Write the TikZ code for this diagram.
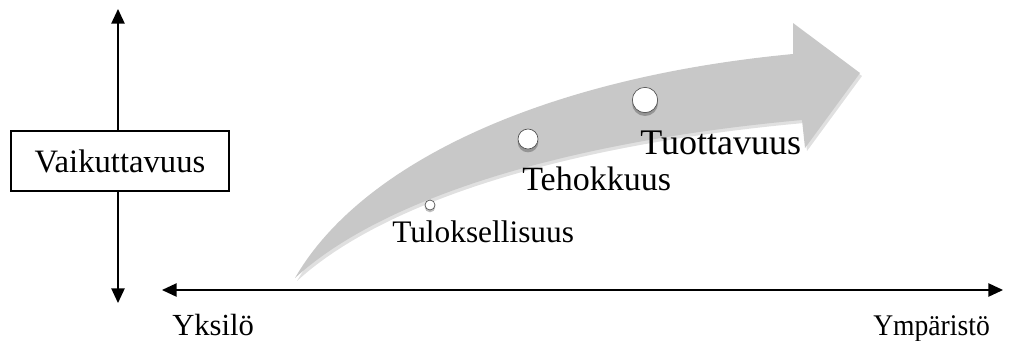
\documentclass[tikz,border=0pt]{standalone}
\usepackage{fontspec}
\setmainfont{Liberation Serif}
\newfontfamily\narrowserif[FakeStretch=0.92]{Liberation Serif}
\usetikzlibrary{arrows.meta}
\definecolor{arrowgray}{RGB}{200,200,200}
\definecolor{dotline}{RGB}{80,80,80}
\tikzset{axtip/.tip={Triangle[length=11pt,width=10pt]}}
\begin{document}
\begin{tikzpicture}[x=0.75pt,y=-0.75pt,
  axisline/.style={line width=1.1pt},
  box/.style={draw, line width=1pt, fill=white, minimum width=163.5pt, minimum height=45pt, inner sep=0pt},
  lbl/.style={inner sep=0pt, anchor=base west},
  dotc/.style={circle, draw=dotline, line width=0.5pt, fill=white, inner sep=0pt},
  dotshadow/.style={circle, fill=black, opacity=0.25, inner sep=0pt},
  bigarrow/.style={insert path={(295,278) .. controls (360,165) and (540,78) .. (793,54)
    -- (793,23) -- (860,73) -- (805,148) -- (802,120)
    .. controls (560,142) and (380,200) .. (295,278) -- cycle}}]
\useasboundingbox (0,0) rectangle (1009,340);
% big curved arrow: shadow and body
\fill[black, opacity=0.12, shift={(2,3)}, bigarrow];
\fill[arrowgray, bigarrow];
% dots with shadows
\node[dotshadow, minimum size=8pt] at (430,207) {};
\node[dotc, minimum size=7.5pt] (d1) at (430,205) {};
\node[dotshadow, minimum size=15.5pt] at (528,142) {};
\node[dotc, minimum size=15pt] (d2) at (528,139) {};
\node[dotshadow, minimum size=19.5pt] at (645,103) {};
\node[dotc, minimum size=19pt] (d3) at (645,100) {};
% labels on the arrow
\node[lbl, font=\fontsize{23.5}{28}\selectfont] (tul) at (392,242) {Tuloksellisuus};
\node[lbl, font=\fontsize{25.5}{30}\selectfont] (teh) at (522,190) {Tehokkuus};
\node[lbl, font=\fontsize{27}{32}\selectfont] (tuo) at (640,154) {Tuottavuus};
% vertical axis with box
\node[box, font=\fontsize{24.5}{28}\selectfont] (vai) at (120,161) {Vaikuttavuus};
\coordinate (vtop) at (118,9);
\coordinate (vbot) at (118,303);
\draw[axisline, -{axtip}] (vai.north -| vtop) -- (vtop);
\draw[axisline, -{axtip}] (vai.south -| vbot) -- (vbot);
% horizontal axis
\coordinate (hl) at (162,290);
\coordinate (hr) at (1003,290);
\draw[axisline, {axtip}-{axtip}] (hl) -- (hr);
\node[lbl, font=\fontsize{23}{28}\selectfont] (yks) at (172,335) {Yksilö};
\node[lbl, font=\narrowserif\fontsize{22.5}{26}\selectfont] (ymp) at (873,335) {Ympäristö};
\end{tikzpicture}
\end{document}
